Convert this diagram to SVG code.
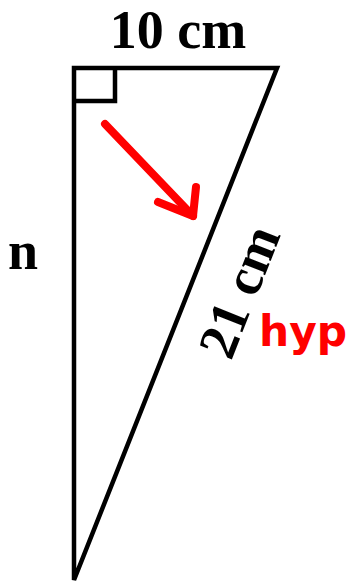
<svg xmlns="http://www.w3.org/2000/svg" width="350" height="586" viewBox="0 0 350 586">
<style>
.lbl{font-family:"Liberation Serif","Times New Roman",serif;font-weight:bold;font-size:54px;fill:#000}
.hand{font-family:"DejaVu Sans",sans-serif;font-weight:bold;font-size:42px;fill:#ff0000}
.edge{fill:none;stroke:#000;stroke-width:4.5;stroke-linejoin:miter}
.red{fill:none;stroke:#ff0000;stroke-width:8;stroke-linecap:round;stroke-linejoin:round}
</style>
<rect width="350" height="586" fill="#fff"/>
<g id="triangle">
<path class="edge" d="M74,68 L277,68 L74,580 Z"/>
<path class="edge" d="M74,101 L115,101 L115,68"/>
</g>
<g id="labels">
<text class="lbl" x="178" y="48" text-anchor="middle">10 cm</text>
<text class="lbl" x="8" y="269">n</text>
<text class="lbl" x="0" y="0" text-anchor="middle" transform="translate(256,298) rotate(-68.4)">21 cm</text>
<text class="hand" x="259" y="346" textLength="88" lengthAdjust="spacingAndGlyphs">hyp</text>
</g>
<g id="connectors">
<path class="red" d="M105,124 L193,216"/>
<path class="red" d="M196,187 L193,216 L158,202"/>
</g>
</svg>
